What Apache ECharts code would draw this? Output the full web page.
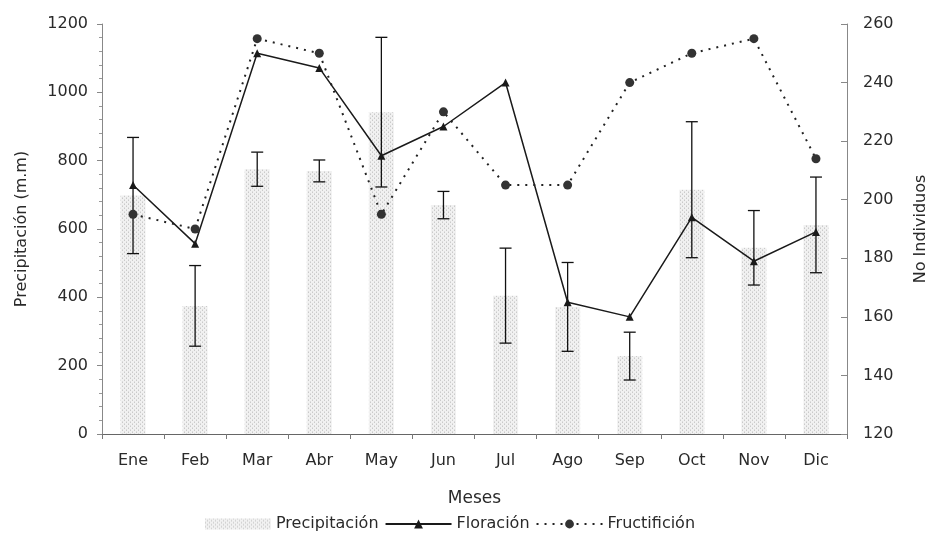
<!DOCTYPE html>
<html>
<head>
<meta charset="utf-8">
<script src="https://cdn.jsdelivr.net/npm/echarts@6/dist/echarts.min.js"></script>
<style>
  html, body { margin: 0; padding: 0; background: #fff; }
  #chart { width: 927px; height: 558px; }
</style>
</head>
<body>
<div id="chart"></div>
<script>
// Months
const meses = ['Ene', 'Feb', 'Mar', 'Abr', 'May', 'Jun', 'Jul', 'Ago', 'Sep', 'Oct', 'Nov', 'Dic'];
// Monthly precipitation (m.m) and its deviation
const precipitacion = [698, 375, 775, 770, 942, 670, 405, 372, 228, 715, 545, 612];
const desviacion = [170, 118, 50, 32, 219, 40, 139, 130, 70, 199, 109, 140];
// Number of individuals flowering / fruiting
const floracion = [205, 185, 250, 245, 215, 225, 240, 165, 160, 194, 179, 189];
const fructificacion = [195, 190, 255, 250, 195, 230, 205, 205, 240, 250, 255, 214];
// Axis ticks
const precipTicks = [0, 200, 400, 600, 800, 1000, 1200];
const indivTicks = [120, 140, 160, 180, 200, 220, 240, 260];

const FONT = 'DejaVu Sans';
const TXT = '#2a2a2a';

// Light stippled fill for the precipitation bars
function stipple() {
  const c = document.createElement('canvas');
  c.width = 4; c.height = 4;
  const g = c.getContext('2d');
  g.fillStyle = '#f1f1f1';
  g.fillRect(0, 0, 4, 4);
  g.fillStyle = '#cacaca';
  g.fillRect(0, 0, 1, 1); g.fillRect(2, 2, 1, 1);
  g.fillStyle = '#dcdcdc';
  g.fillRect(2, 1, 1, 1); g.fillRect(0, 3, 1, 1);
  return c;
}
const barFill = { image: stipple(), repeat: 'repeat' };

const errData = precipitacion.map((v, i) => [i, v - desviacion[i], v + desviacion[i]]);

const chart = echarts.init(document.getElementById('chart'), null, { renderer: 'canvas' });

chart.setOption({
  animation: false,
  backgroundColor: '#fff',
  textStyle: { fontFamily: FONT, color: TXT },
  grid: { left: 102, right: 80, top: 24, bottom: 124, outerBoundsMode: 'none', containLabel: false },
  legend: {
    left: 200, top: 511,
    itemWidth: 66, itemHeight: 11, itemGap: 6,
    textStyle: { fontFamily: FONT, fontSize: 16, color: TXT },
    data: [
      { name: 'Precipitación', icon: 'rect' },
      { name: 'Floración' },
      { name: 'Fructifición' }
    ]
  },
  xAxis: {
    type: 'category',
    data: meses,
    name: 'Meses',
    nameLocation: 'middle',
    nameGap: 56,
    nameTextStyle: { fontFamily: FONT, fontSize: 17, color: TXT },
    axisLine: { lineStyle: { color: '#666', width: 1 } },
    axisTick: { show: true, length: 5, lineStyle: { color: '#777' } },
    axisLabel: { fontFamily: FONT, fontSize: 16, color: TXT, margin: 19 },
    splitLine: { show: false }
  },
  yAxis: [
    {
      type: 'value',
      min: precipTicks[0],
      max: precipTicks[precipTicks.length - 1],
      interval: 200,
      name: 'Precipitación (m.m)',
      nameLocation: 'middle',
      nameGap: 72,
      nameTextStyle: { fontFamily: FONT, fontSize: 16, color: TXT },
      axisLine: { show: true, lineStyle: { color: '#888' } },
      axisTick: { show: true, length: 5, lineStyle: { color: '#888' } },
      minorTick: { show: true, splitNumber: 5, length: 3, lineStyle: { color: '#999' } },
      axisLabel: { fontFamily: FONT, fontSize: 16, color: TXT, margin: 14, formatter: v => String(v) },
      splitLine: { show: false }
    },
    {
      type: 'value',
      min: indivTicks[0],
      max: indivTicks[indivTicks.length - 1],
      interval: 20,
      name: 'No Individuos',
      nameLocation: 'middle',
      nameGap: 66,
      nameTextStyle: { fontFamily: FONT, fontSize: 16, color: TXT },
      axisLine: { show: true, lineStyle: { color: '#888' } },
      axisTick: { show: true, inside: true, length: 6, lineStyle: { color: '#888' } },
      axisLabel: { fontFamily: FONT, fontSize: 16, color: TXT, margin: 16, formatter: v => String(v) },
      splitLine: { show: false }
    }
  ],
  series: [
    {
      name: 'Precipitación',
      type: 'bar',
      yAxisIndex: 0,
      data: precipitacion,
      barWidth: 25,
      itemStyle: { color: barFill },
      z: 1
    },
    {
      name: 'Desviación',
      type: 'custom',
      yAxisIndex: 0,
      data: errData,
      encode: { x: 0, y: [1, 2] },
      z: 3,
      renderItem: function (params, api) {
        const i = api.value(0);
        const lo = api.coord([i, api.value(1)]);
        const hi = api.coord([i, api.value(2)]);
        const hw = 6;
        const st = { stroke: '#111', lineWidth: 1.3 };
        return {
          type: 'group',
          children: [
            { type: 'line', shape: { x1: hi[0], y1: hi[1], x2: lo[0], y2: lo[1] }, style: st },
            { type: 'line', shape: { x1: hi[0] - hw, y1: hi[1], x2: hi[0] + hw, y2: hi[1] }, style: st },
            { type: 'line', shape: { x1: lo[0] - hw, y1: lo[1], x2: lo[0] + hw, y2: lo[1] }, style: st }
          ]
        };
      }
    },
    {
      name: 'Floración',
      type: 'line',
      yAxisIndex: 1,
      data: floracion,
      symbol: 'triangle',
      symbolSize: 8,
      lineStyle: { color: '#1a1a1a', width: 1.5, type: 'solid' },
      itemStyle: { color: '#1a1a1a' },
      z: 4
    },
    {
      name: 'Fructifición',
      type: 'line',
      yAxisIndex: 1,
      data: fructificacion,
      symbol: 'circle',
      symbolSize: 9,
      lineStyle: { color: '#222', width: 2, type: [2, 6] },
      itemStyle: { color: '#333' },
      z: 5
    }
  ]
});
</script>
</body>
</html>
